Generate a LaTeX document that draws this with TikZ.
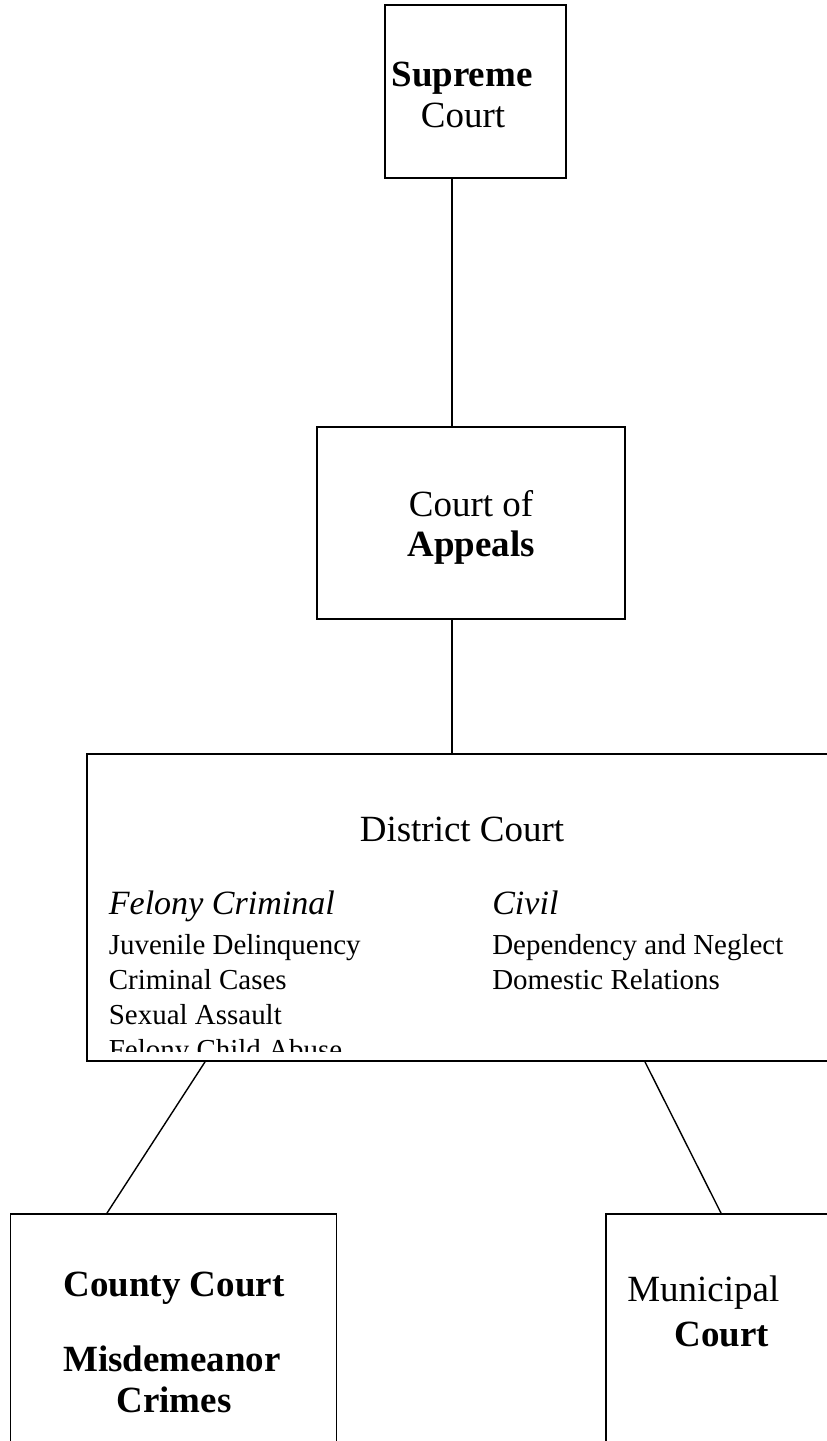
\documentclass[tikz,border=0pt]{standalone}
\usepackage{fontspec}
\setmainfont{Liberation Serif}
\usepackage{tikz}

\tikzset{
  courtbox/.style={draw,line width=1.3pt,inner sep=0pt},
  link/.style={line width=1pt},
  bigtxt/.style={anchor=base,inner sep=0pt,font=\fontsize{26.3}{30}\selectfont},
  headtxt/.style={anchor=base west,inner sep=0pt,font=\fontsize{24.2}{28}\selectfont\itshape},
  listtxt/.style={anchor=base west,inner sep=0pt,font=\fontsize{20.6}{24}\selectfont}
}

\begin{document}
\begin{tikzpicture}[x=1cm,y=1cm]
\clip (0,0) rectangle (20.675,36.025);
% boxes
\node[courtbox,minimum width=4.525cm,minimum height=4.325cm] (supreme) at (11.8875,33.7375) {};
\node[courtbox,minimum width=7.70cm,minimum height=4.80cm] (appeals) at (11.775,22.95) {};
\node[courtbox,minimum width=19.325cm,minimum height=7.675cm] (district) at (11.8375,13.3375) {};
\node[courtbox,minimum width=8.15cm,minimum height=6.175cm] (county) at (4.3375,2.5875) {};
\node[courtbox,minimum width=6.36cm,minimum height=6.175cm] (municipal) at (18.32,2.5875) {};
% texts
\node[bigtxt] (supA) at (11.55,33.85) {\bfseries Supreme};
\node[bigtxt] (supB) at (11.575,32.825) {Court};
\node[bigtxt] (appA) at (11.775,23.10) {Court of};
\node[bigtxt] (appB) at (11.775,22.10) {\bfseries Appeals};
\node[bigtxt] (distA) at (11.55,14.975) {District Court};
\node[headtxt] (felony) at (2.715,13.15) {Felony Criminal};
\node[listtxt] (juv) at (2.715,12.15) {Juvenile Delinquency};
\node[listtxt] (crim) at (2.715,11.275) {Criminal Cases};
\node[listtxt] (sex) at (2.715,10.40) {Sexual Assault};
\begin{scope}
\clip (2.175,9.725) rectangle (20.675,17.175);
\node[listtxt] (child) at (2.715,9.525) {Felony Child Abuse};
\end{scope}
\node[headtxt] (civil) at (12.30,13.15) {Civil};
\node[listtxt] (dep) at (12.30,12.15) {Dependency and Neglect};
\node[listtxt] (dom) at (12.30,11.275) {Domestic Relations};
\node[bigtxt] (cntA) at (4.35,3.60) {\bfseries County Court};
\node[bigtxt] (cntB) at (4.30,1.725) {\bfseries Misdemeanor};
\node[bigtxt] (cntC) at (4.35,0.70) {\bfseries Crimes};
\node[bigtxt,anchor=base west] (munA) at (15.675,3.475) {Municipal};
\node[bigtxt] (munB) at (18.04,2.35) {\bfseries Court};
% connectors
\coordinate (tapA) at (11.30,0);
\coordinate (tapB) at (5.125,0);
\coordinate (tapC) at (2.675,0);
\coordinate (tapD) at (16.125,0);
\coordinate (tapE) at (18.025,0);
\draw[link] (supreme.south -| tapA) -- (appeals.north -| tapA);
\draw[link] (appeals.south -| tapA) -- (district.north -| tapA);
\draw[link] (district.south -| tapB) -- (county.north -| tapC);
\draw[link] (district.south -| tapD) -- (municipal.north -| tapE);
\end{tikzpicture}
\end{document}
